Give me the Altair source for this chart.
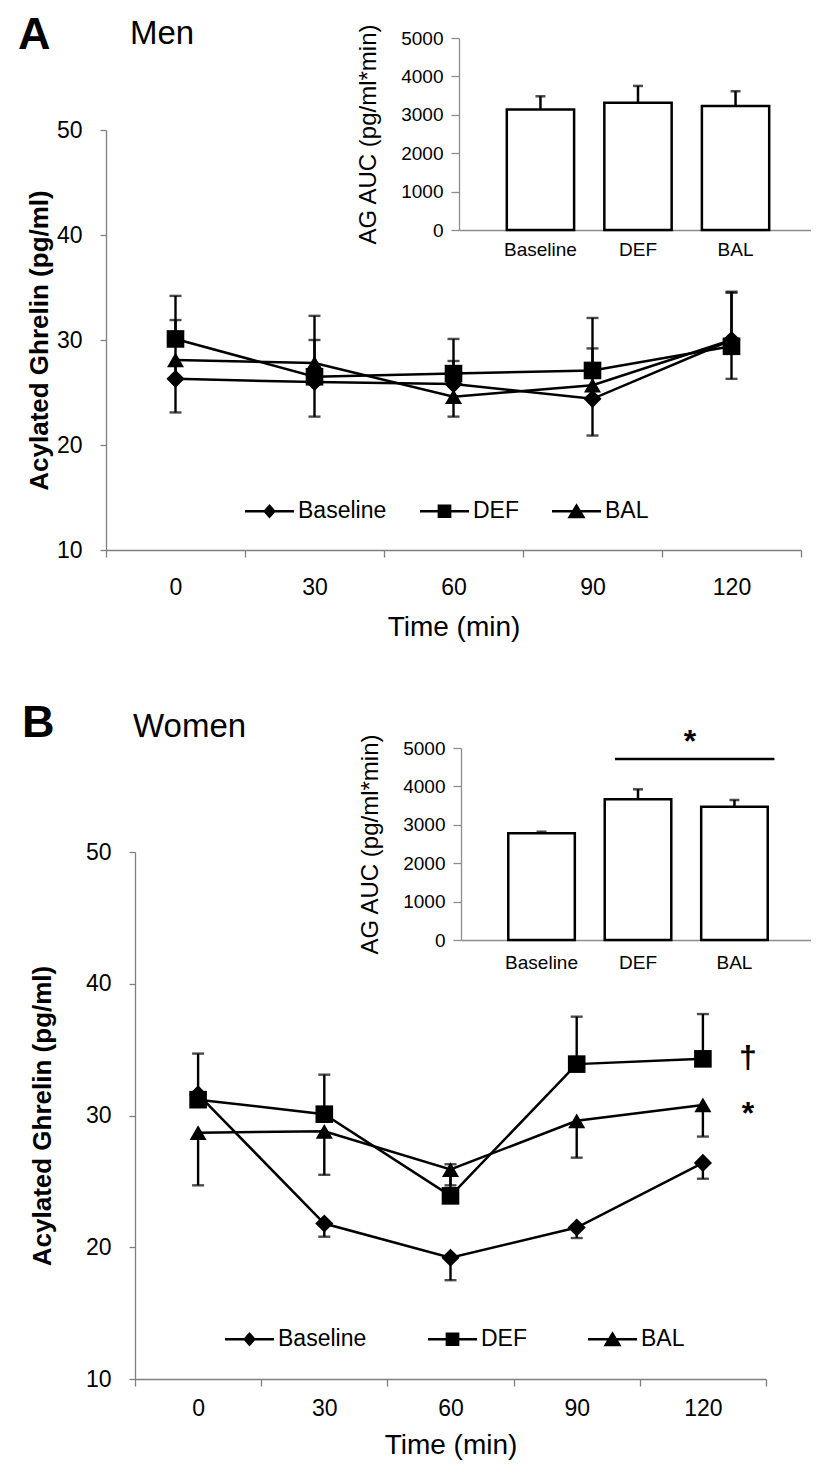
import altair as alt
import pandas as pd

FONT = "Liberation Sans"
AXIS_GRAY = "#7f7f7f"
INSET_GRAY = "#8c8c8c"

# ---------------- data ----------------
time_points = [0, 30, 60, 90, 120]
conditions = ["Baseline", "DEF", "BAL"]

# Panel A - Men
men_baseline = [26.3, 26.0, 25.8, 24.4, 30.0]
men_def = [30.1, 26.5, 26.8, 27.1, 29.4]
men_bal = [28.1, 27.8, 24.6, 25.7, 30.0]
men_baseline_se = [5.6, 4.0, 2.2, 4.8, 4.5]
men_def_se = [4.1, 5.8, 3.3, 5.0, 5.2]
men_bal_se = [5.0, 5.1, 1.9, 4.8, 3.7]
men_err_dir = [1, 1, -1]
men_auc = [3141, 3316, 3229]
men_auc_se = [341, 436, 384]

# Panel B - Women
women_baseline = [31.6, 21.8, 19.2, 21.5, 26.4]
women_def = [31.2, 30.1, 23.9, 33.9, 34.3]
women_bal = [28.7, 28.8, 25.9, 29.6, 30.8]
women_baseline_se = [0.8, 1.0, 1.7, 0.8, 1.2]
women_def_se = [3.5, 3.0, 2.4, 3.6, 3.4]
women_bal_se = [4.0, 3.3, 1.2, 2.8, 2.4]
women_err_dir = [-1, 1, -1]
women_auc = [2778, 3663, 3472]
women_auc_se = [42, 261, 174]
women_sig_from = "DEF"
women_sig_to = "BAL"
women_sig_level = 4714

panel_letters = ["A", "B"]
panel_groups = ["Men", "Women"]

# ---------------- layout (plot-area pixels) ----------------
W, H = 803, 1457

# legend symbols: a short line with the marker on it (one filled path each)
_BAR = "M-1,-0.052H1V0.052H-1Z"
LEGEND_PATHS = [
    _BAR + "M0,-0.3L0.26,0L0,0.3L-0.26,0Z",
    _BAR + "M-0.28,-0.28H0.28V0.28H-0.28Z",
    _BAR + "M0,-0.33L0.37,0.29H-0.37Z",
]


def long_table(vals, ses, dirs):
    rows = []
    for cond, v, e, d in zip(conditions, vals, ses, dirs):
        for t, vv, ee in zip(time_points, v, e):
            rows.append({"time": t, "series": cond, "value": vv, "err_end": vv + d * ee})
    return pd.DataFrame(rows)


def main_panel(df, xr, yr, x_axis_y, y_axis_x, lab_pad, title_pad, ytitle_pad, marks_extra=False):
    xs = alt.Scale(type="band", domain=time_points, range=xr, paddingInner=0, paddingOuter=0)
    xa = alt.Axis(title="Time (min)", orient="bottom", offset=x_axis_y - H, tickBand="extent",
                  labelAngle=0, grid=False, domainColor=AXIS_GRAY, domainWidth=1.3,
                  tickColor=AXIS_GRAY, tickWidth=1.3, tickSize=7,
                  labelFont=FONT, labelFontSize=23, labelColor="black", labelPadding=lab_pad,
                  titleFont=FONT, titleFontSize=28, titleFontWeight="normal", titleColor="black",
                  titlePadding=title_pad)
    X = alt.X("time:O", scale=xs, axis=xa)
    ys = alt.Scale(domain=[10, 50], range=yr, nice=False, zero=False)
    ya = alt.Axis(title="Acylated Ghrelin (pg/ml)", orient="left", offset=-y_axis_x,
                  values=[10, 20, 30, 40, 50], grid=False, domainColor=AXIS_GRAY, domainWidth=1.3,
                  tickColor=AXIS_GRAY, tickWidth=1.3, tickSize=6,
                  labelFont=FONT, labelFontSize=23, labelColor="black", labelPadding=18,
                  titleFont=FONT, titleFontSize=26, titleFontWeight="bold", titleColor="black",
                  titlePadding=ytitle_pad)

    def Y(f):
        return alt.Y(f, type="quantitative", scale=ys, axis=ya)

    base = alt.Chart(df)
    err = base.mark_rule(color="black", strokeWidth=2.4).encode(x=X, y=Y("value"), y2="err_end:Q")
    cap = base.mark_tick(color="black", thickness=2.4, size=12).encode(x=X, y=Y("err_end"))
    line = base.mark_line(color="black", strokeWidth=2.5).encode(x=X, y=Y("value"), detail="series:N")
    pts = base.mark_point(filled=True, opacity=1, color="black").encode(
        x=X, y=Y("value"),
        shape=alt.Shape("series:N", scale=alt.Scale(domain=conditions, range=["diamond", "square", "triangle-up"]), legend=None),
        size=alt.Size("series:N", scale=alt.Scale(domain=conditions, range=[330, 290, 400]), legend=None),
    )
    layers = [err, cap, line, pts]
    if marks_extra:
        dag = base.transform_filter("datum.series == 'DEF' && datum.time == 120").mark_text(
            text="†", font=FONT, fontSize=32, fontWeight="bold", color="black",
            dx=45, dy=9, baseline="alphabetic", align="center").encode(x=X, y=Y("value"))
        ast = base.transform_filter("datum.series == 'BAL' && datum.time == 120").mark_text(
            text="*", font=FONT, fontSize=32, fontWeight="bold", color="black",
            dx=45, dy=19, baseline="alphabetic", align="center").encode(x=X, y=Y("value"))
        layers += [dag, ast]
    return alt.layer(*layers)


def inset_panel(auc, se, xr, yr, x_axis_y, y_axis_x, lab_pad, sig=None):
    df = pd.DataFrame({"group": conditions, "auc": auc,
                       "auc_top": [a + s for a, s in zip(auc, se)]})
    xs = alt.Scale(domain=conditions, range=xr, paddingInner=0.31, paddingOuter=0.49)
    xa = alt.Axis(title="", orient="bottom", offset=x_axis_y - H, ticks=False, labelAngle=0,
                  grid=False, domainColor=INSET_GRAY, domainWidth=1.6,
                  labelFont=FONT, labelFontSize=19, labelColor="black", labelPadding=lab_pad)
    ys = alt.Scale(domain=[0, 5000], range=yr, nice=False)
    ya = alt.Axis(title="AG AUC (pg/ml*min)", orient="left", offset=-y_axis_x,
                  values=[0, 1000, 2000, 3000, 4000, 5000], format="d", grid=False,
                  domainColor=INSET_GRAY, domainWidth=1.3, tickColor=INSET_GRAY, tickWidth=1.3,
                  tickSize=8, labelFont=FONT, labelFontSize=19, labelColor="black", labelPadding=8,
                  titleFont=FONT, titleFontSize=24, titleFontWeight="normal", titleColor="black",
                  titlePadding=20)

    def X(f):
        return alt.X(f, type="nominal", scale=xs, axis=xa)

    def Y(f):
        return alt.Y(f, type="quantitative", scale=ys, axis=ya)

    base = alt.Chart(df)
    bars = base.mark_bar(fill="white", stroke="black", strokeWidth=2.5).encode(x=X("group"), y=Y("auc"))
    err = base.mark_rule(color="black", strokeWidth=2.5).encode(x=X("group"), y=Y("auc"), y2="auc_top:Q")
    cap = base.mark_tick(color="black", thickness=2.5, size=10).encode(x=X("group"), y=Y("auc_top"))
    layers = [bars, err, cap]
    if sig is not None:
        sdf = pd.DataFrame({"from": [sig[0]], "to": [sig[1]], "level": [sig[2]]})
        sb = alt.Chart(sdf)
        layers.append(sb.mark_rule(color="black", strokeWidth=2.5, xOffset=-23, x2Offset=40).encode(
            x=X("from"), x2="to:N", y=Y("level")))
        layers.append(sb.mark_text(text="*", font=FONT, fontSize=32, fontWeight="bold", color="black",
                                   dx=52, dy=-7, baseline="alphabetic", align="center").encode(
            x=X("from"), y=Y("level")))
    return alt.layer(*layers)


def legend_layer(lx, ly, col_pad):
    return alt.Chart(pd.DataFrame({"series": conditions})).transform_filter("false").mark_point(
        filled=True, color="black", opacity=1
    ).encode(
        shape=alt.Shape("series:N", scale=alt.Scale(domain=conditions, range=LEGEND_PATHS),
                        legend=alt.Legend(title=None, orient="none", legendX=lx, legendY=ly,
                                          direction="horizontal", symbolSize=2401,
                                          symbolFillColor="black", symbolOpacity=1,
                                          labelFont=FONT, labelFontSize=23, labelColor="black",
                                          labelOffset=3, columnPadding=col_pad, padding=0))
    )


def label(txt, x, y, size, weight):
    return alt.Chart(pd.DataFrame({"t": [txt]})).mark_text(
        font=FONT, fontSize=size, fontWeight=weight, color="black", align="left", baseline="alphabetic"
    ).encode(x=alt.value(x), y=alt.value(y), text="t:N")


men_df = long_table([men_baseline, men_def, men_bal], [men_baseline_se, men_def_se, men_bal_se], men_err_dir)
women_df = long_table([women_baseline, women_def, women_bal],
                      [women_baseline_se, women_def_se, women_bal_se], women_err_dir)

A_main = main_panel(men_df, [98, 793], [542, 122], 542, 98, 19, 14, 4)
A_inset = inset_panel(men_auc, men_auc_se, [451, 809], [222, 30], 222, 451, 10)
B_main = main_panel(women_df, [127, 758], [1371, 844], 1371, 127, 11, 11, 30, marks_extra=True)
B_inset = inset_panel(women_auc, women_auc_se, [453, 807], [932, 740], 932, 453, 13,
                      sig=(women_sig_from, women_sig_to, women_sig_level))

chart = alt.layer(
    A_main, A_inset, B_main, B_inset,
    legend_layer(236, 477.5, 30),
    legend_layer(216, 1305.5, 58),
    label(panel_letters[0], 10, 41, 45, "bold"),
    label(panel_groups[0], 122, 36, 33, "normal"),
    label(panel_letters[1], 14, 729, 45, "bold"),
    label(panel_groups[1], 125, 729, 33, "normal"),
).resolve_scale(
    x="independent", y="independent", shape="independent"
).resolve_axis(
    x="independent", y="independent"
).resolve_legend(
    shape="independent"
).properties(
    width=W, height=H, padding=0, autosize=alt.AutoSizeParams(type="none")
).configure_view(strokeWidth=0)

chart.save("out.html", embed_options={"renderer": "svg", "actions": False})
